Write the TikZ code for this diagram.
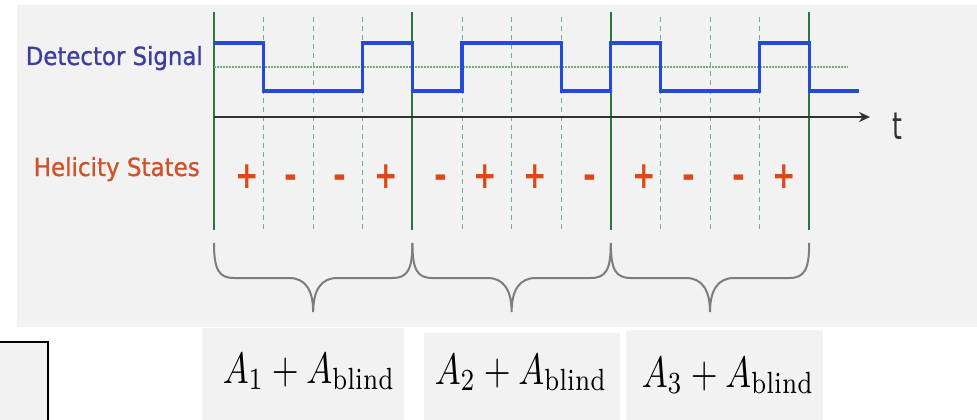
\documentclass[tikz,border=0pt]{standalone}
\usepackage{fontspec}
\usepackage{graphicx}
\usetikzlibrary{arrows.meta}
\newfontfamily\dvfont{DejaVu Sans}
\newfontfamily\dvlabel{DejaVu Sans}[FakeBold=1.0]
\definecolor{panel}{HTML}{F2F2F2}
\definecolor{sigblue}{RGB}{35,75,215}
\definecolor{gridgreen}{RGB}{42,118,62}
\definecolor{dashgreen}{RGB}{120,170,140}
\definecolor{dotgreen}{RGB}{112,172,112}
\definecolor{axisgray}{RGB}{50,50,50}
\definecolor{labelblue}{RGB}{62,62,160}
\definecolor{labelred}{RGB}{208,82,42}
\definecolor{signred}{RGB}{222,72,22}
\definecolor{bracegray}{RGB}{125,125,125}
\begin{document}
\begin{tikzpicture}[x=1pt,y=-1pt,
  periodline/.style={gridgreen,line width=2pt},
  stateline/.style={dashgreen,line width=1pt,dash pattern=on 5pt off 4pt},
  levelline/.style={dotgreen,line width=2.5pt,dash pattern=on 2pt off 1pt},
  signal/.style={sigblue,line width=3.2pt,line join=miter},
  axisline/.style={axisgray,line width=2.5pt,-{Stealth[length=11pt,width=10pt]}},
  bracepath/.style={bracegray,line width=2pt},
  rowlabel/.style={inner sep=0pt,anchor=base east,font=\dvlabel\fontsize{25}{29}\selectfont},
  sign/.style={inner sep=0pt,anchor=base,text=signred,font=\dvfont\bfseries\fontsize{28}{30}\selectfont},
  formula/.style={inner sep=0pt,anchor=base},
  panelbox/.style={fill=panel,draw=none}]
\useasboundingbox (0,0) rectangle (977,420);
\fill[white] (0,0) rectangle (977,420);
% background panels
\path[panelbox] (17,5) rectangle (977,327);
\path[panelbox] (202,328) rectangle (404,420);
\path[panelbox] (424,333) rectangle (620,420);
\path[panelbox] (626,330) rectangle (823,420);
\draw[fill=panel,draw=black,line width=2pt] (-3,342) rectangle (48,423);
% dashed state lines
\foreach \k in {1,2,3,5,6,7,9,10,11}{
  \draw[stateline] ({214+\k*49.6},17) -- ({214+\k*49.6},230);
}
% solid period lines
\foreach \k in {0,4,8,12}{
  \draw[periodline] ({214+\k*49.6},12) -- ({214+\k*49.6},230);
}
% level line
\draw[levelline] (214,67) -- (848,67);
% axis
\draw[axisline] (214,117) -- (870,117);
\node[inner sep=0pt,anchor=base,text=axisgray,font=\dvfont\fontsize{28}{30}\selectfont] (tlabel) at (897,139) {\scalebox{0.9}[1.35]{t}};
% signal
\draw[signal] (214,43) -- (263.6,43) -- (263.6,91) -- (362.8,91) -- (362.8,43)
  -- (412.4,43) -- (412.4,91) -- (462,91) -- (462,43) -- (561.2,43) -- (561.2,91)
  -- (610.8,91) -- (610.8,43) -- (660.4,43) -- (660.4,91) -- (759.6,91) -- (759.6,43)
  -- (809.2,43) -- (809.2,91) -- (859,91);
% labels
\node[rowlabel,text=labelblue] (detlabel) at (203,65) {\scalebox{0.914}[1]{Detector Signal}};
\node[rowlabel,text=labelred] (hellabel) at (200,176) {\scalebox{0.92}[1]{Helicity States}};
% helicity signs
\node[sign] (s1) at (247,188) {\scalebox{1}[1.35]{+}};
\node[sign] (s2) at (291,188) {\scalebox{1.1}[1.35]{-}};
\node[sign] (s3) at (340,188) {\scalebox{1.1}[1.35]{-}};
\node[sign] (s4) at (386,188) {\scalebox{1}[1.35]{+}};
\node[sign] (s5) at (441,188) {\scalebox{1.1}[1.35]{-}};
\node[sign] (s6) at (485,188) {\scalebox{1}[1.35]{+}};
\node[sign] (s7) at (535,188) {\scalebox{1}[1.35]{+}};
\node[sign] (s8) at (590,188) {\scalebox{1.1}[1.35]{-}};
\node[sign] (s9) at (644,188) {\scalebox{1}[1.35]{+}};
\node[sign] (s10) at (689,188) {\scalebox{1.1}[1.35]{-}};
\node[sign] (s11) at (739,188) {\scalebox{1.1}[1.35]{-}};
\node[sign] (s12) at (784,188) {\scalebox{1}[1.35]{+}};
% braces
\foreach \a in {214,412.4,610.8}{
  \pgfmathsetmacro{\m}{\a+99.2}
  \pgfmathsetmacro{\b}{\a+198.4}
  \draw[bracepath] (\a,243) .. controls (\a,270) and ({\a+5},278) .. ({\a+20},278)
    -- ({\m-24},278) .. controls ({\m-8},278) and (\m,290) .. (\m,312)
    .. controls (\m,290) and ({\m+8},278) .. ({\m+24},278)
    -- ({\b-20},278) .. controls ({\b-5},278) and (\b,270) .. (\b,243);
}
% formulas
\node[formula] (f1) at (309,383) {\scalebox{3.45}[4.38]{$A_1+A_{\mathrm{blind}}$}};
\node[formula] (f2) at (521,384) {\scalebox{3.45}[4.38]{$A_2+A_{\mathrm{blind}}$}};
\node[formula] (f3) at (728,387) {\scalebox{3.45}[4.38]{$A_3+A_{\mathrm{blind}}$}};
\end{tikzpicture}
\end{document}
